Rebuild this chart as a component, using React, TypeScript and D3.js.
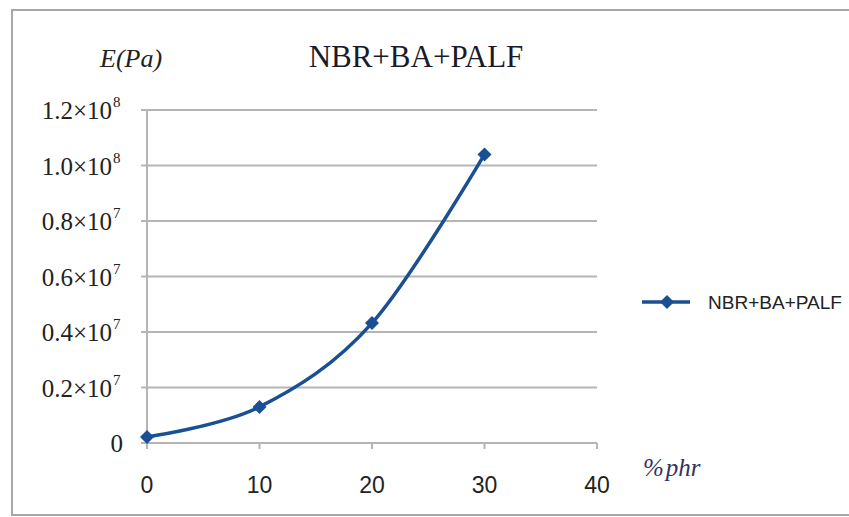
import React from "react";
import * as d3 from "d3";

const phr = [0, 10, 20, 30];
const modulus = [2.2e6, 1.3e7, 4.32e7, 1.04e8];
const yTicks = [0, 0.2e8, 0.4e8, 0.6e8, 0.8e8, 1.0e8, 1.2e8];
const yTickMant = ["0", "0.2×10", "0.4×10", "0.6×10", "0.8×10", "1.0×10", "1.2×10"];
const yTickExp = ["", "7", "7", "7", "7", "8", "8"];
const xTicks = [0, 10, 20, 30, 40];
const seriesName = "NBR+BA+PALF";
const titleText = "NBR+BA+PALF";

const W = 849;
const H = 517;
const LINE = "#1b4f93";
const GRID = "#b5b5b5";

function diamond(cx: number, cy: number, r: number) {
  return `M${cx},${cy - r}L${cx + r},${cy}L${cx},${cy + r}L${cx - r},${cy}Z`;
}

export default function App() {
  const x = d3.scaleLinear().domain([0, 40]).range([147, 597]);
  const y = d3.scaleLinear().domain([0, 1.2e8]).range([443, 110]);
  const line = d3
    .line<number>()
    .x((_, i) => x(phr[i]))
    .y((d) => y(d))
    .curve(d3.curveCardinal.tension(0));
  const serif = "'Liberation Serif', 'Times New Roman', serif";
  const sans = "'Liberation Sans', Arial, sans-serif";
  return (
    <svg
      width={W}
      height={H}
      style={{ position: "absolute", left: 0, top: 0, display: "block", background: "#fff" }}
    >
      <rect x={12} y={10} width={W} height={505} fill="#fff" stroke="#a8a8a8" strokeWidth={2} />
      {/* title */}
      <text x={416} y={67} textAnchor="middle" fontFamily={serif} fontSize={31} fill="#1a1a2a">
        {titleText}
      </text>
      <text x={100} y={67} fontFamily={serif} fontStyle="italic" fontSize={26} fill="#222">
        E(Pa)
      </text>
      {/* grid */}
      {yTicks.map((t, i) => (
        <line key={"g" + i} x1={141} x2={597} y1={y(t)} y2={y(t)} stroke={GRID} strokeWidth={2} />
      ))}
      <line x1={147} x2={147} y1={y(1.2e8)} y2={y(0)} stroke={GRID} strokeWidth={2} />
      {xTicks.map((t, i) => (
        <line key={"xt" + i} x1={x(t)} x2={x(t)} y1={443} y2={449} stroke={GRID} strokeWidth={2} />
      ))}
      {/* y labels */}
      {yTicks.map((t, i) => (
        <text key={"yl" + i} x={i === 0 ? 123 : 112} y={y(t) + 9} textAnchor="end" fontFamily={serif} fontSize={25} fill="#222">
          {yTickMant[i]}
        </text>
      ))}
      {yTicks.map((t, i) =>
        yTickExp[i] ? (
          <text key={"ye" + i} x={113} y={y(t) - 3} fontFamily={serif} fontSize={15} fill="#222">
            {yTickExp[i]}
          </text>
        ) : null
      )}
      {/* x labels */}
      {xTicks.map((t, i) => (
        <text key={"xl" + i} x={x(t)} y={493} textAnchor="middle" fontFamily={sans} fontSize={23} fill="#222">
          {t}
        </text>
      ))}
      <text x={643} y={476} fontFamily={serif} fontStyle="italic" fontSize={25} fill="#33335e">
        %
        <tspan dx={2}>phr</tspan>
      </text>
      {/* series */}
      <path d={line(modulus) || ""} fill="none" stroke={LINE} strokeWidth={3.5} />
      {modulus.map((v, i) => (
        <path key={"m" + i} d={diamond(x(phr[i]), y(v), 7)} fill={LINE} />
      ))}
      {/* legend */}
      <line x1={642} x2={690} y1={302} y2={302} stroke={LINE} strokeWidth={3.5} />
      <path d={diamond(667, 302, 7)} fill={LINE} />
      <text x={708} y={309} fontFamily={sans} fontSize={19} textLength={134} lengthAdjust="spacingAndGlyphs" fill="#222">
        {seriesName}
      </text>
    </svg>
  );
}
